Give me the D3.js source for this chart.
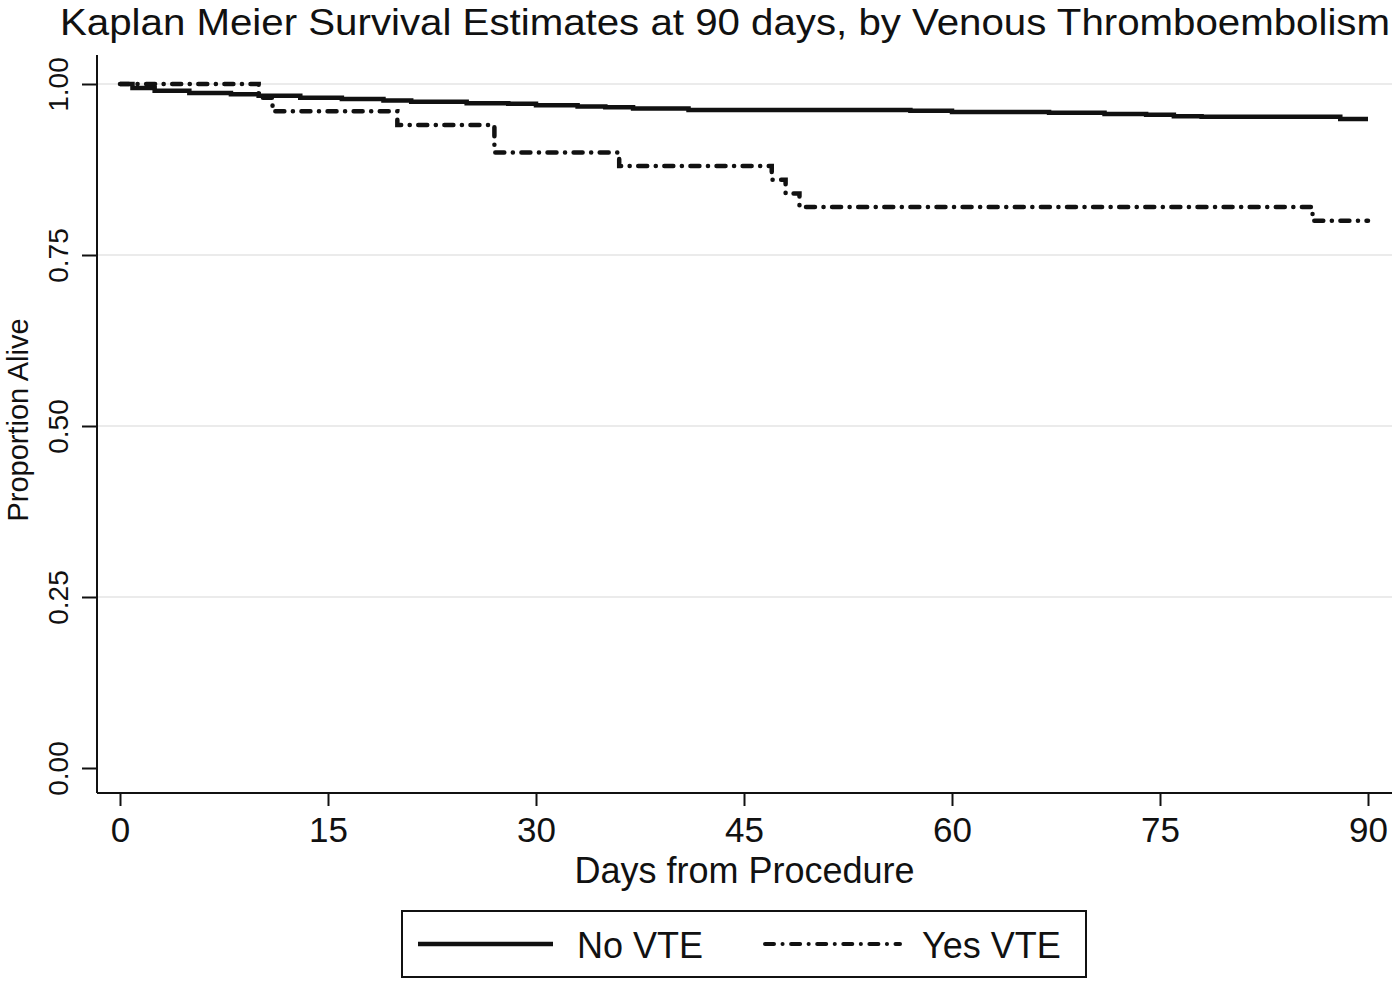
<!DOCTYPE html>
<html>
<head>
<meta charset="utf-8">
<script src="https://cdn.jsdelivr.net/npm/d3@7"></script>
<style>
  html, body { margin: 0; padding: 0; background: #fff; }
  svg { display: block; }
  text { font-family: "Liberation Sans", Arial, Helvetica, sans-serif; fill: #111; }
</style>
</head>
<body>
<svg id="chart" width="1397" height="985"></svg>
<script>
// ---- Data ----
const titleText = "Kaplan Meier Survival Estimates at 90 days, by Venous Thromboembolism";
const xTitle = "Days from Procedure";
const yTitle = "Proportion Alive";
const xTicks = [0, 15, 30, 45, 60, 75, 90];
const yTicks = [0, 0.25, 0.5, 0.75, 1.0];
const yGrid = [0.25, 0.5, 0.75, 1.0];
const seriesNames = ["No VTE", "Yes VTE"];

// No VTE Kaplan-Meier step estimates (day, survival)
const noVteDays = [0, 0.9, 2.5, 5, 8, 10, 13, 16, 19, 21, 25, 28, 30, 33, 35, 37, 41, 57, 60, 67, 71, 74, 76, 78, 88, 90];
const noVteSurv = [1.000, 0.994, 0.990, 0.987, 0.985, 0.983, 0.980, 0.978, 0.976, 0.974, 0.972, 0.971, 0.969, 0.967, 0.966, 0.964, 0.962, 0.961, 0.959, 0.958, 0.956, 0.955, 0.953, 0.952, 0.949, 0.949];

// Yes VTE Kaplan-Meier step estimates (day, survival)
const yesVteDays = [0, 10, 11, 20, 27, 36, 47, 48, 49, 86, 90];
const yesVteSurv = [1.00, 0.98, 0.96, 0.94, 0.90, 0.88, 0.86, 0.84, 0.82, 0.80, 0.80];

// ---- Layout ----
const svg = d3.select("#chart");
const plotLeft = 97, plotRight = 1392, plotTop = 55, plotBottom = 793;
const x = d3.scaleLinear().domain([0, 90]).range([120, 1368]);
const y = d3.scaleLinear().domain([0, 1]).range([768, 84]);

// grid
svg.append("g").selectAll("line").data(yGrid).join("line")
  .attr("x1", plotLeft).attr("x2", plotRight)
  .attr("y1", d => y(d)).attr("y2", d => y(d))
  .attr("stroke", "#ebebeb").attr("stroke-width", 2);

// Axes
const xAxis = d3.axisBottom(x).tickValues(xTicks).tickSize(13).tickPadding(10).tickFormat(d3.format("d"));
const gx = svg.append("g").attr("transform", `translate(0,${plotBottom})`).call(xAxis);
gx.select(".domain").remove();
gx.selectAll(".tick line").attr("stroke", "#111").attr("stroke-width", 2);
gx.selectAll(".tick text").attr("font-size", 35).attr("y", 49).attr("dy", 0).attr("fill", "#111");
svg.append("line").attr("x1", plotLeft).attr("x2", plotRight)
  .attr("y1", plotBottom).attr("y2", plotBottom).attr("stroke", "#111").attr("stroke-width", 2);

const yAxis = d3.axisLeft(y).tickValues(yTicks).tickSize(15).tickFormat(d3.format(".2f"));
const gy = svg.append("g").attr("transform", `translate(${plotLeft},0)`).call(yAxis);
gy.select(".domain").remove();
gy.selectAll(".tick line").attr("stroke", "#111").attr("stroke-width", 2);
gy.selectAll(".tick text")
  .attr("font-size", 28).attr("text-anchor", "middle")
  .attr("x", null).attr("dy", 0).attr("y", null)
  .attr("transform", "translate(-29,0) rotate(-90)")
  .attr("fill", "#111");
svg.append("line").attr("x1", plotLeft).attr("x2", plotLeft)
  .attr("y1", plotTop).attr("y2", plotBottom).attr("stroke", "#111").attr("stroke-width", 2);

// Titles
const t = svg.append("text").attr("x", 60).attr("y", 35).attr("font-size", 37).text(titleText);
const tw = t.node().getComputedTextLength();
if (Math.abs(tw - 1330) > 4) t.attr("textLength", 1330).attr("lengthAdjust", "spacingAndGlyphs");

svg.append("text").attr("x", (plotLeft + plotRight) / 2).attr("y", 883)
  .attr("text-anchor", "middle").attr("font-size", 36).text(xTitle);
svg.append("text").attr("transform", `translate(28,420) rotate(-90)`)
  .attr("text-anchor", "middle").attr("font-size", 29).text(yTitle);

// Curves
const line = d3.line().x(d => x(d[0])).y(d => y(d[1])).curve(d3.curveStepAfter);
const noData = noVteDays.map((d, i) => [d, noVteSurv[i]]);
const yesData = yesVteDays.map((d, i) => [d, yesVteSurv[i]]);
const dashDot = "9,8.5,0.1,8.5";

svg.append("path").datum(yesData).attr("d", line)
  .attr("fill", "none").attr("stroke", "#111").attr("stroke-width", 4.5)
  .attr("stroke-linecap", "round").attr("stroke-dasharray", dashDot);
svg.append("path").datum(noData).attr("d", line)
  .attr("fill", "none").attr("stroke", "#111").attr("stroke-width", 4.5);

// Legend
const lg = svg.append("g");
lg.append("rect").attr("x", 402).attr("y", 911).attr("width", 684).attr("height", 66)
  .attr("fill", "#fff").attr("stroke", "#111").attr("stroke-width", 2);
const legendItems = [
  { name: seriesNames[0], x1: 418, x2: 553, tx: 577, dash: null, w: 4.5 },
  { name: seriesNames[1], x1: 765, x2: 900, tx: 922, dash: dashDot, w: 4 }
];
legendItems.forEach(it => {
  const l = lg.append("line").attr("x1", it.x1).attr("x2", it.x2).attr("y1", 944).attr("y2", 944)
    .attr("stroke", "#111").attr("stroke-width", it.w);
  if (it.dash) l.attr("stroke-dasharray", it.dash).attr("stroke-linecap", "round");
  lg.append("text").attr("x", it.tx).attr("y", 958).attr("font-size", 36).text(it.name);
});
</script>
</body>
</html>
